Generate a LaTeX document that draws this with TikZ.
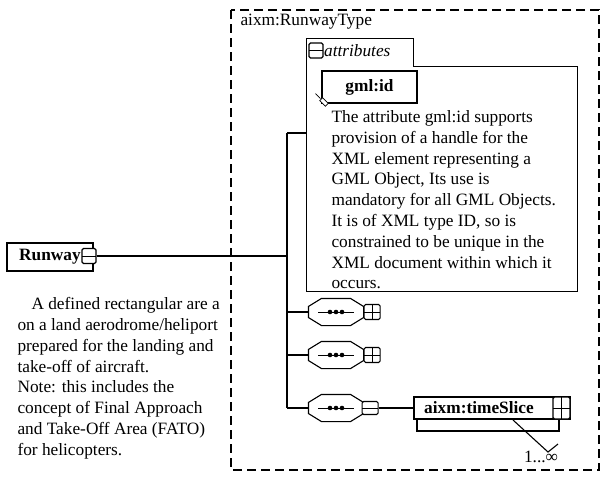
\documentclass[tikz,border=0pt]{standalone}
\usepackage{fontspec}
\setmainfont{Liberation Serif}
\usetikzlibrary{positioning}
\tikzset{
  txt/.style={font=\fontsize{17.3}{20.8}\selectfont},
  elbox/.style={draw,fill=white,inner sep=0,font=\fontsize{17.3}{20.8}\selectfont\bfseries},
  plusbox/.style={draw,fill=white,rounded corners=1.5pt,minimum width=16pt,minimum height=15pt,inner sep=0,
    path picture={\draw[line width=1pt] (path picture bounding box.north) -- (path picture bounding box.south)
      (path picture bounding box.west) -- (path picture bounding box.east);}},
  minusbox/.style={draw,fill=white,rounded corners=1.5pt,minimum width=15pt,minimum height=15pt,inner sep=0,
    path picture={\draw[line width=1pt] (path picture bounding box.west) -- (path picture bounding box.east);}},
  seqbox/.style={inner sep=0,minimum width=54pt,minimum height=26pt}
}

\begin{document}
\begin{tikzpicture}[x=1pt,y=-1pt,line width=1.1pt]
  \useasboundingbox (0,0) rectangle (603,480);
  % outer complex type
  \draw[dash pattern=on 9pt off 5pt] (231,10) rectangle (599,470);
  \node[txt,anchor=base west,inner sep=0] (typename) at (240,25) {aixm:RunwayType};

  % the element itself
  \node[elbox,minimum width=86pt,minimum height=28pt] (rw) at (50,257) {Runway};
  \node[minusbox,minimum width=14pt] (rwminus) at (89,256) {};
  \node[txt,anchor=north west,align=left,inner sep=0] (rwdoc) at (17,297)
    {\hspace*{14pt}A defined rectangular are a\\
     on a land aerodrome/heliport\\
     prepared for the landing and\\
     take-off of aircraft.\\
     Note: this includes the\\
     concept of Final Approach\\
     and Take-Off Area (FATO)\\
     for helicopters.};

  % attributes group
  \node[minimum width=106pt,minimum height=28pt,inner sep=0] (attrtab) at (359.7,53) {};
  \node[minimum width=270.3pt,minimum height=224pt,inner sep=0] (attrbody) at (441.85,179) {};
  \draw (attrbody.south west) |- (attrtab.north east) |- (attrbody.north east) -- (attrbody.south east) -- cycle;
  \node[minusbox,minimum width=14pt] (tabminus) at (316,50.5) {};
  \node[txt,right=0pt of tabminus,inner sep=0,font=\fontsize{17.3}{20.8}\selectfont\itshape] (attrlabel) {attributes};
  \node[elbox,minimum width=95pt,minimum height=32pt] (gmlid) at (369.5,87) {gml:id};
  \draw[line width=0.8pt] (gmlid.south west) ++(-6,-10) coordinate (gmlpin) -- ++(5,5);
  \node[draw,fill=white,rotate=-45,minimum width=8pt,minimum height=4pt,inner sep=0,line width=0.8pt] (gmlmark) at (324,102) {};
  \node[txt,anchor=north west,align=left,inner sep=0] (gmldoc) at (331,110)
    {The attribute gml:id supports\\
     provision of a handle for the\\
     XML element representing a\\
     GML Object, Its use is\\
     mandatory for all GML Objects.\\
     It is of XML type ID, so is\\
     constrained to be unique in the\\
     XML document within which it\\
     occurs.};

  % trunk and branches
  \coordinate (jmid) at (287,256);
  \coordinate (jtop) at (287,133);
  \coordinate (jattr) at (306.7,133);
  \draw (rwminus.east) -- (jmid);
  \foreach \i/\y in {1/312,2/355,3/408}{
    \coordinate (j\i) at (287,\y);
    \node[seqbox] (seq\i) at (336,\y) {};
    \draw[fill=white] ([xshift=13pt]seq\i.north west) -- ([xshift=-13pt]seq\i.north east)
      -- ([yshift=-8pt]seq\i.north east) -- ([yshift=8pt]seq\i.south east)
      -- ([xshift=-13pt]seq\i.south east) -- ([xshift=13pt]seq\i.south west)
      -- ([yshift=8pt]seq\i.south west) -- ([yshift=-8pt]seq\i.north west) -- cycle;
    \draw[line width=1pt] ([xshift=-18pt]seq\i.center) -- ([xshift=18pt]seq\i.center);
    \foreach \dx in {-6,0,6}
      \fill ([xshift=\dx pt]seq\i.center) circle (2.3);
    \draw (j\i) -- (seq\i.west);
  }
  \draw (jtop) -- (j3);
  \draw (jtop) -- (jattr);
  \node[plusbox,right=0pt of seq1] (plus1) {};
  \node[plusbox,right=0pt of seq2] (plus2) {};
  \node[minusbox,minimum width=16pt,minimum height=13pt,right=-2pt of seq3] (minus3) {};

  % timeSlice
  \node[draw,minimum width=142pt,minimum height=22pt,inner sep=0] (tsback) at (488,420) {};
  \node[elbox,minimum width=156pt,minimum height=22pt] (ts) at (492,408) {aixm:timeSlice\hspace*{26pt}};
  \node[plusbox,minimum width=17pt,minimum height=22pt,anchor=east] (tsplus) at (ts.east) {};
  \draw (minus3.east) -- (ts.west);
  \coordinate (m0) at (513,420);
  \coordinate (mtip) at (548,452);
  \coordinate (m1) at (558,444);
  \draw (m0) -- (mtip) -- (m1);
  \node[txt,inner sep=0] (mult) at (541,457) {1...∞};
\end{tikzpicture}
\end{document}
